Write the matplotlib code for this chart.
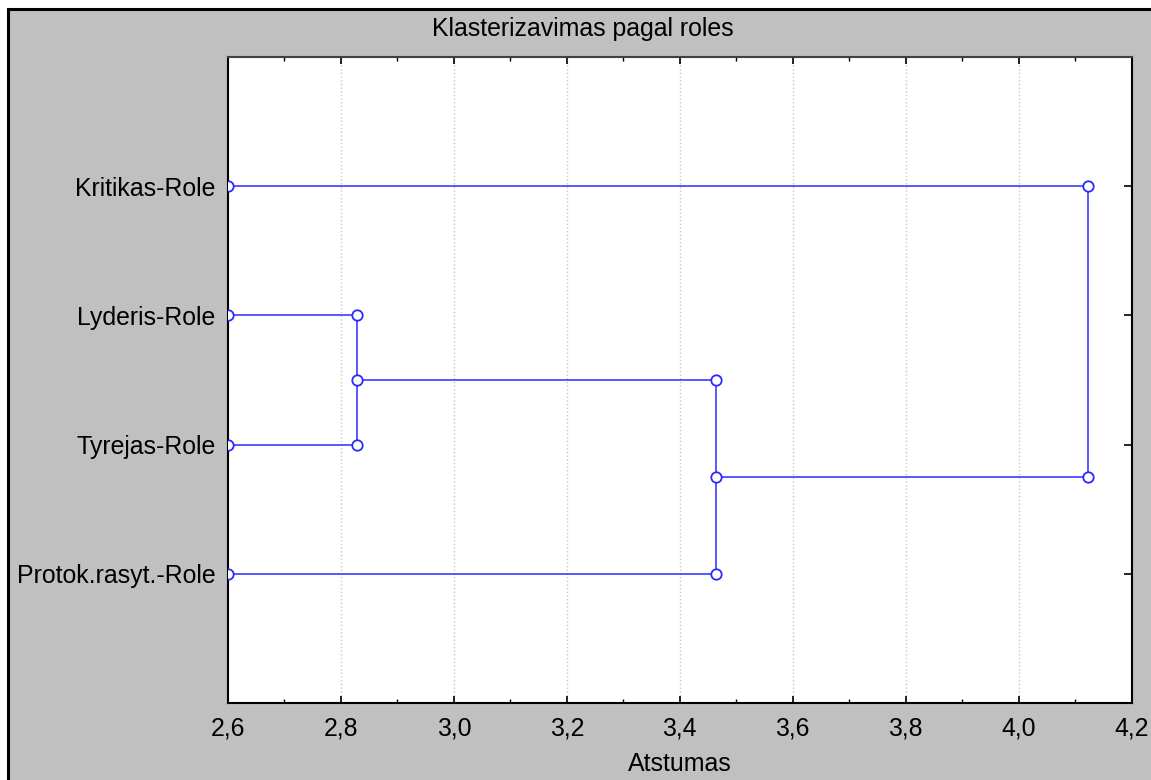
import matplotlib
matplotlib.use("Agg")
import matplotlib.pyplot as plt
from matplotlib.patches import Rectangle
from matplotlib.ticker import FuncFormatter, MultipleLocator

plt.rcParams['font.family'] = ['Liberation Sans', 'DejaVu Sans']

# leaves from bottom to top
roles = ["Protok.rasyt.-Role", "Tyrejas-Role", "Lyderis-Role", "Kritikas-Role"]
leaf_pos = [1, 2, 3, 4]

# linkage steps: (left child, right child, distance)
# children are leaf indices (0..3) or previous cluster ids (4..)
merges = [
    (2, 1, 2.828),   # Lyderis + Tyrejas
    (4, 0, 3.464),   # (Lyderis, Tyrejas) + Protok.rasyt.
    (3, 5, 4.123),   # Kritikas + rest
]
x_start = 2.6

xticks = [2.6, 2.8, 3.0, 3.2, 3.4, 3.6, 3.8, 4.0, 4.2]

blue = "#2a2aff"
grey = "#c0c0c0"
fs = 17.9

fig = plt.figure(figsize=(11.51, 7.8), dpi=100)
fig.patch.set_facecolor("white")

# grey panel with black frame on top/left
panel = Rectangle((8 / 1151, -0.05), 1.2, (780 - 9.5) / 780 + 0.05,
                  transform=fig.transFigure, facecolor=grey,
                  edgecolor="black", linewidth=2.2, zorder=-5)
fig.patches.append(panel)

ax = fig.add_axes([228 / 1151, 77 / 780, (1131.5 - 228) / 1151, (703 - 57) / 780])
ax.set_zorder(2)
ax.set_facecolor("white")

# node positions: leaves first, clusters appended as they are formed
node_x = [x_start] * len(roles)
node_y = list(leaf_pos)
for a, b, d in merges:
    for c in (a, b):
        ax.plot([node_x[c], d], [node_y[c], node_y[c]], color=blue, lw=1.1,
                marker="o", ms=7.5, mfc="white", mec=blue, mew=1.3, zorder=3)
    ax.plot([d, d], [node_y[a], node_y[b]], color=blue, lw=1.1, zorder=2)
    node_x.append(d)
    node_y.append((node_y[a] + node_y[b]) / 2)

ax.set_xlim(2.6, 4.2)
ax.set_ylim(0, 5)
ax.set_xticks(xticks)
ax.xaxis.set_minor_locator(MultipleLocator(0.1))
ax.xaxis.set_major_formatter(FuncFormatter(lambda v, p: f"{v:.1f}".replace(".", ",")))
ax.grid(axis="x", which="major", color="#c8c8c8", linestyle=":", linewidth=1.0)
ax.set_axisbelow(True)

ax.set_yticks(leaf_pos)
ax.set_yticklabels(roles)
ax.tick_params(axis="x", which="major", direction="in", top=True, length=5,
               width=1.2, labelsize=fs, pad=10)
ax.tick_params(axis="x", which="minor", direction="in", top=True, length=3,
               width=1.0)
ax.tick_params(axis="y", direction="in", left=False, right=True, length=6,
               width=1.2, labelsize=fs, pad=9)

for side in ["left", "bottom", "right", "top"]:
    ax.spines[side].set_linewidth(1.5)
    ax.spines[side].set_color("black")
ax.spines["top"].set_color("#404040")

fig.text(0.506, 1 - 29 / 780, "Klasterizavimas pagal roles", ha="center",
         va="center", fontsize=fs)
ax.set_xlabel("Atstumas", fontsize=fs, labelpad=8)

fig.savefig("out.png", dpi=100, facecolor=fig.get_facecolor())
